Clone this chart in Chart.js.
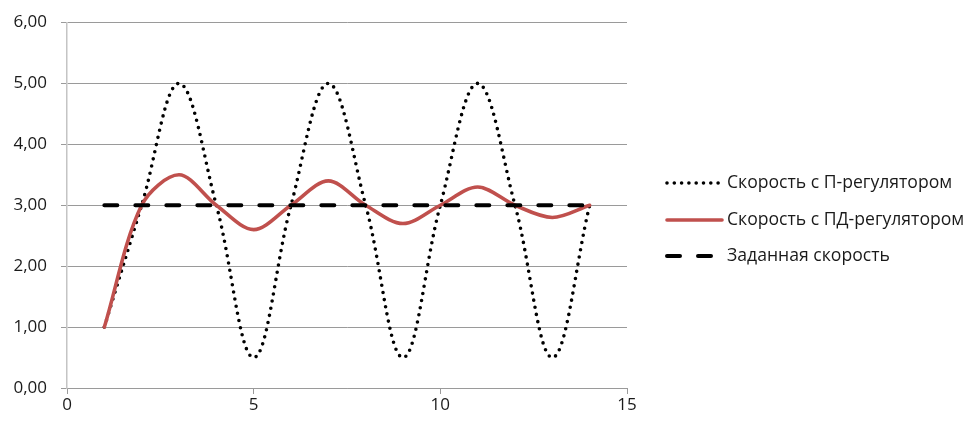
<!DOCTYPE html>
<html>
<head>
<meta charset="utf-8">
<script src="https://cdn.jsdelivr.net/npm/chart.js@4/dist/chart.umd.min.js"></script>
<style>
  html, body { margin: 0; padding: 0; background: #ffffff; }
  #wrap { width: 968px; height: 423px; position: relative; }
</style>
</head>
<body>
<div id="wrap"><canvas id="c" width="968" height="423"></canvas></div>
<script>
// Time steps
const steps = [1, 2, 3, 4, 5, 6, 7, 8, 9, 10, 11, 12, 13, 14];
// Speed with P-controller
const speedP = [1, 3, 5, 3, 0.5, 3, 5, 3, 0.5, 3, 5, 3, 0.5, 3];
// Speed with PD-controller
const speedPD = [1, 3, 3.5, 3, 2.6, 3, 3.4, 3, 2.7, 3, 3.3, 3, 2.8, 3];
// Target speed
const speedTarget = [3, 3, 3, 3, 3, 3, 3, 3, 3, 3, 3, 3, 3, 3];
const seriesNames = ['Скорость с П-регулятором', 'Скорость с ПД-регулятором', 'Заданная скорость'];

const FONT = '"Open Sans", Lato, "Noto Sans", sans-serif';
const TICK_SIZE = 17;
const LEGEND_SIZE = 17.6;
const toPoints = (ys) => steps.map((x, i) => ({ x: x, y: ys[i] }));

// Legend drawn at the right, using each dataset's own line style
const sideLegend = {
  id: 'sideLegend',
  afterDraw(chart) {
    const ctx = chart.ctx;
    const rows = [183, 220, 256];
    const x0 = 667, x1 = 722, tx = 727;
    chart.data.datasets.forEach((ds, i) => {
      const y = rows[i];
      ctx.save();
      ctx.strokeStyle = ds.borderColor;
      ctx.lineWidth = ds.borderWidth;
      ctx.lineCap = ds.borderCapStyle || 'butt';
      ctx.setLineDash(ds.borderDash || []);
      ctx.beginPath();
      ctx.moveTo(x0, y);
      ctx.lineTo(x1, y);
      ctx.stroke();
      ctx.restore();
      ctx.save();
      ctx.fillStyle = '#1a1a1a';
      ctx.font = LEGEND_SIZE + 'px ' + FONT;
      ctx.textBaseline = 'middle';
      ctx.textAlign = 'left';
      ctx.fillText(ds.label, tx, y);
      ctx.restore();
    });
  }
};

new Chart(document.getElementById('c'), {
  type: 'scatter',
  data: {
    datasets: [
      {
        label: seriesNames[0],
        data: toPoints(speedP),
        showLine: true,
        borderColor: '#000000',
        borderWidth: 3.6,
        borderDash: [0, 7.3],
        borderCapStyle: 'round',
        pointRadius: 0,
        tension: 0.38,
        order: 3
      },
      {
        label: seriesNames[1],
        data: toPoints(speedPD),
        showLine: true,
        borderColor: '#c0504d',
        borderWidth: 3.6,
        borderCapStyle: 'round',
        pointRadius: 0,
        tension: 0.32,
        order: 2
      },
      {
        label: seriesNames[2],
        data: toPoints(speedTarget),
        showLine: true,
        borderColor: '#000000',
        borderWidth: 4,
        borderDash: [13, 18],
        borderCapStyle: 'round',
        pointRadius: 0,
        tension: 0,
        order: 1
      }
    ]
  },
  options: {
    responsive: false,
    animation: false,
    devicePixelRatio: 1,
    layout: { padding: { left: 0, right: 341, top: 22.5, bottom: 0 } },
    plugins: {
      legend: { display: false },
      tooltip: { enabled: false }
    },
    scales: {
      x: {
        type: 'linear',
        min: 0,
        max: 15,
        afterFit(scale) { scale.height = 35; },
        ticks: {
          stepSize: 5,
          color: '#1a1a1a',
          font: { family: FONT, size: TICK_SIZE },
          padding: 1
        },
        grid: {
          drawOnChartArea: false,
          drawTicks: true,
          tickLength: 6,
          color: '#9a9a9a'
        },
        border: { color: '#9a9a9a', width: 1 }
      },
      y: {
        min: 0,
        max: 6,
        afterFit(scale) {
          scale.width = 67;
          scale.paddingTop = 0;
          scale.paddingBottom = 0;
        },
        ticks: {
          stepSize: 1,
          color: '#1a1a1a',
          font: { family: FONT, size: TICK_SIZE },
          padding: 14,
          callback: (v) => v.toFixed(2).replace('.', ',')
        },
        grid: {
          color: '#9a9a9a',
          tickLength: 6,
          lineWidth: 1
        },
        border: { color: '#c4c4c4', width: 1.5 }
      }
    }
  },
  plugins: [sideLegend]
});
</script>
</body>
</html>
